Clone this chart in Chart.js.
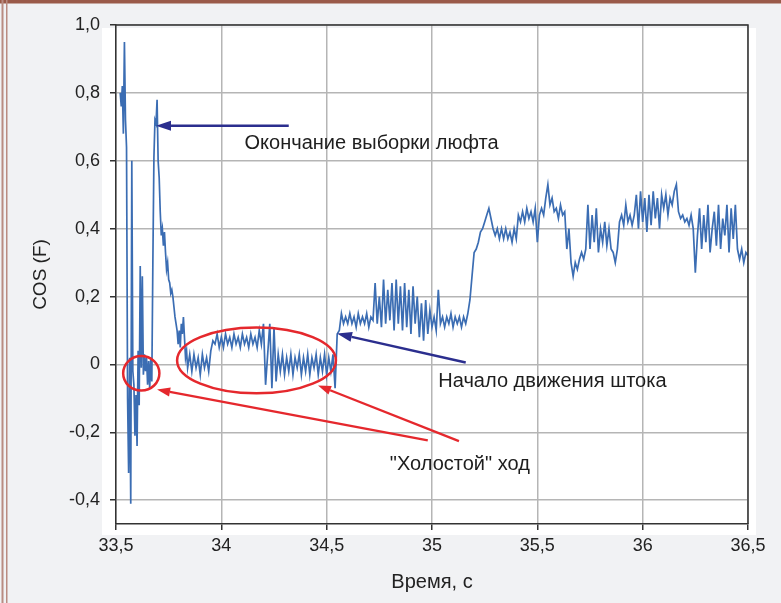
<!DOCTYPE html>
<html>
<head>
<meta charset="utf-8">
<script src="https://cdn.jsdelivr.net/npm/chart.js@4/dist/chart.umd.min.js"></script>
<style>
  html, body { margin: 0; padding: 0; background: #f1f2f4; }
  canvas { display: block; }
</style>
</head>
<body>
<canvas id="chart" width="781" height="603"></canvas>
<script>
// Sample times, s
const timeS = [
  33.52,33.525,33.53,33.535,33.54,33.545,33.55,33.555,33.56,33.565,
  33.57,33.575,33.58,33.585,33.59,33.595,33.6,33.605,33.61,33.615,
  33.62,33.625,33.63,33.635,33.64,33.645,33.65,33.655,33.66,33.665,
  33.67,33.675,33.68,33.685,33.69,33.695,33.7,33.705,33.71,33.715,
  33.72,33.725,33.73,33.735,33.74,33.745,33.75,33.755,33.76,33.765,
  33.77,33.775,33.78,33.785,33.79,33.795,33.8,33.805,33.81,33.815,
  33.82,33.825,33.83,33.835,33.84,
  33.85,33.86,33.87,33.88,33.89,33.9,33.91,33.92,33.93,33.94,
  33.95,33.96,33.97,33.98,33.99,34.0,34.01,34.02,34.03,34.04,
  34.05,34.06,34.07,34.08,34.09,34.1,34.11,34.12,34.13,34.14,
  34.15,34.16,34.17,34.18,34.19,34.2,34.21,34.22,34.23,34.24,
  34.25,34.26,34.27,34.28,34.29,34.3,34.31,34.32,34.33,34.34,
  34.35,34.36,34.37,34.38,34.39,34.4,34.41,34.42,34.43,34.44,
  34.45,34.46,34.47,34.48,34.49,34.5,34.51,34.52,34.53,34.54,
  34.55,34.56,34.57,34.58,34.59,34.6,34.61,34.62,34.63,34.64,
  34.65,34.66,34.67,34.68,34.69,34.7,34.71,34.72,34.73,34.74,
  34.75,34.76,34.77,34.78,34.79,34.8,34.81,34.82,34.83,34.84,
  34.85,34.86,34.87,34.88,34.89,34.9,34.91,34.92,34.93,34.94,
  34.95,34.96,34.97,34.98,34.99,35.0,35.01,35.02,35.03,35.04,
  35.05,35.06,35.07,35.08,35.09,35.1,35.11,35.12,35.13,35.14,
  35.15,35.16,35.17,35.18,35.19,35.2,35.21,35.22,35.23,35.24,
  35.25,35.26,35.27,35.28,35.29,35.3,35.31,35.32,35.33,35.34,
  35.35,35.36,35.37,35.38,35.39,35.4,35.41,35.42,35.43,35.44,
  35.45,35.46,35.47,35.48,35.49,35.5,35.51,35.52,35.53,35.54,
  35.55,35.56,35.57,35.58,35.59,35.6,35.61,35.62,35.63,35.64,
  35.65,35.66,35.67,35.68,35.69,35.7,35.71,35.72,35.73,35.74,
  35.75,35.76,35.77,35.78,35.79,35.8,35.81,35.82,35.83,35.84,
  35.85,35.86,35.87,35.88,35.89,35.9,35.91,35.92,35.93,35.94,
  35.95,35.96,35.97,35.98,35.99,36.0,36.01,36.02,36.03,36.04,
  36.05,36.06,36.07,36.08,36.09,36.1,36.11,36.12,36.13,36.14,
  36.15,36.16,36.17,36.18,36.19,36.2,36.21,36.22,36.23,36.24,
  36.25,36.26,36.27,36.28,36.29,36.3,36.31,36.32,36.33,36.34,
  36.35,36.36,36.37,36.38,36.39,36.4,36.41,36.42,36.43,36.44,
  36.45,36.46,36.47,36.48,36.49,36.5
];

// COS (F) at each sample
const cosF = [
  0.80,0.76,0.82,0.68,0.95,0.72,0.64,-0.10,-0.32,0.02,
  -0.41,0.60,-0.02,-0.06,-0.21,-0.09,-0.24,0.04,-0.12,0.29,
  -0.01,0.26,-0.03,0.03,-0.02,0.02,-0.06,0.01,-0.07,0.02,
  -0.05,0.30,0.61,0.72,0.71,0.78,0.60,0.55,0.45,0.38,
  0.40,0.35,0.39,0.33,0.28,0.30,0.25,0.24,0.21,0.22,
  0.20,0.17,0.14,0.12,0.10,0.06,0.10,0.05,0.12,0.09,
  0.14,0.08,0.02,0.04,-0.01,
  0.03,-0.02,0.03,-0.01,0.02,-0.03,0.03,-0.01,0.02,-0.02,
  0.04,0.07,0.06,0.09,0.05,0.08,0.05,0.09,0.06,0.08,
  0.05,0.09,0.06,0.08,0.05,0.09,0.06,0.08,0.05,0.09,
  0.06,0.08,0.05,0.10,0.06,0.12,-0.06,0.03,0.12,-0.07,
  0.11,-0.05,0.03,-0.02,0.03,-0.03,0.02,-0.02,0.03,-0.03,
  0.02,-0.01,0.03,-0.03,0.02,-0.02,0.03,-0.03,0.02,-0.01,
  0.03,-0.03,0.02,-0.02,0.03,-0.03,0.02,-0.02,0.03,-0.07,
  0.09,0.10,0.15,0.12,0.14,0.12,0.15,0.12,0.14,0.11,
  0.15,0.12,0.14,0.12,0.15,0.11,0.14,0.13,0.24,0.12,
  0.20,0.11,0.25,0.12,0.22,0.13,0.24,0.10,0.25,0.12,
  0.23,0.10,0.24,0.11,0.22,0.09,0.23,0.12,0.20,0.08,
  0.18,0.07,0.19,0.09,0.16,0.11,0.14,0.10,0.22,0.12,
  0.14,0.11,0.14,0.12,0.15,0.11,0.14,0.12,0.14,0.11,
  0.14,0.12,0.15,0.19,0.26,0.33,0.34,0.36,0.39,0.40,
  0.42,0.44,0.46,0.43,0.40,0.38,0.40,0.37,0.40,0.37,
  0.40,0.37,0.39,0.36,0.40,0.37,0.44,0.42,0.45,0.42,
  0.46,0.43,0.45,0.42,0.46,0.36,0.44,0.46,0.44,0.49,
  0.53,0.47,0.49,0.45,0.46,0.43,0.47,0.44,0.45,0.34,
  0.40,0.30,0.26,0.30,0.28,0.31,0.33,0.31,0.34,0.47,
  0.34,0.44,0.36,0.46,0.33,0.40,0.36,0.42,0.35,0.40,
  0.34,0.33,0.30,0.34,0.42,0.44,0.41,0.47,0.42,0.44,
  0.41,0.44,0.50,0.40,0.51,0.42,0.49,0.39,0.50,0.41,
  0.51,0.43,0.49,0.40,0.50,0.46,0.50,0.44,0.49,0.47,
  0.51,0.53,0.45,0.43,0.44,0.42,0.43,0.41,0.44,0.40,
  0.27,0.38,0.46,0.34,0.44,0.36,0.47,0.33,0.40,0.45,
  0.35,0.47,0.34,0.43,0.38,0.47,0.33,0.46,0.37,0.47,
  0.34,0.31,0.34,0.30,0.33,0.32
];

// Axis ticks
const xTickValues = [33.5, 34, 34.5, 35, 35.5, 36, 36.5];
const xTickLabels = ['33,5', '34', '34,5', '35', '35,5', '36', '36,5'];
const yTickValues = [-0.4, -0.2, 0, 0.2, 0.4, 0.6, 0.8, 1.0];
const yTickLabels = ['-0,4', '-0,2', '0', '0,2', '0,4', '0,6', '0,8', '1,0'];

// Callouts, placed in axis units
const callouts = {
  endOfPlay: { text: 'Окончание выборки люфта', tx: 34.11, ty: 0.65,
               arrowFrom: [34.32, 0.703], arrowTo: [33.69, 0.703] },
  rodStart:  { text: 'Начало движения штока', tx: 35.03, ty: -0.05,
               arrowFrom: [35.16, 0.006], arrowTo: [34.549, 0.091] },
  idle:      { text: '"Холостой" ход', tx: 34.8, ty: -0.294,
               rings: [ { cx: 33.62, cy: -0.026, rx: 0.086, ry: 0.051 },
                        { cx: 34.167, cy: 0.012, rx: 0.377, ry: 0.097 } ],
               pointers: [ { from: [34.98, -0.224], to: [33.695, -0.074] },
                           { from: [35.128, -0.226], to: [34.459, -0.062] } ] }
};

const TICK_FONT = '"Liberation Sans", Arial, sans-serif';
const TEXT_FONT = '"Liberation Sans", Arial, sans-serif';

function arrow(ctx, x1, y1, x2, y2, color, width, headLen, headHalf) {
  const ang = Math.atan2(y2 - y1, x2 - x1);
  const bx = x2 - Math.cos(ang) * headLen, by = y2 - Math.sin(ang) * headLen;
  ctx.strokeStyle = color;
  ctx.fillStyle = color;
  ctx.lineWidth = width;
  ctx.beginPath();
  ctx.moveTo(x1, y1);
  ctx.lineTo(bx, by);
  ctx.stroke();
  ctx.beginPath();
  ctx.moveTo(x2, y2);
  ctx.lineTo(bx + Math.sin(ang) * headHalf, by - Math.cos(ang) * headHalf);
  ctx.lineTo(bx - Math.sin(ang) * headHalf, by + Math.cos(ang) * headHalf);
  ctx.closePath();
  ctx.fill();
}

const pagePlugin = {
  id: 'page',
  beforeDraw(chart) {
    const { ctx, width, height, chartArea: a } = chart;
    ctx.save();
    ctx.fillStyle = '#f1f2f4';
    ctx.fillRect(0, 0, width, height);
    ctx.fillStyle = '#ffffff';
    ctx.fillRect(a.left - 14, a.top + 3, a.right - a.left + 22, a.bottom - a.top + 8);
    ctx.fillStyle = '#9a5a49';
    ctx.fillRect(0, 0, width, 3.5);
    ctx.fillStyle = '#b98c82';
    ctx.fillRect(1.5, 0, 2, height);
    ctx.fillRect(6, 0, 1.5, height);
    ctx.restore();
  },
  afterDraw(chart) {
    const { ctx, chartArea: a, scales: { x, y } } = chart;
    const px = v => x.getPixelForValue(v);
    const py = v => y.getPixelForValue(v);
    ctx.save();
    // top and right edges of the plot frame
    ctx.strokeStyle = '#333';
    ctx.lineWidth = 1.5;
    ctx.beginPath();
    ctx.moveTo(a.left, a.top);
    ctx.lineTo(a.right, a.top);
    ctx.lineTo(a.right, a.bottom);
    ctx.stroke();

    const blue = '#2b2e8e', red = '#e5282d';
    ctx.font = '20px ' + TEXT_FONT;
    ctx.textBaseline = 'middle';
    ctx.textAlign = 'left';

    const e = callouts.endOfPlay;
    arrow(ctx, px(e.arrowFrom[0]), py(e.arrowFrom[1]), px(e.arrowTo[0]), py(e.arrowTo[1]), blue, 2.5, 15, 5);
    const r = callouts.rodStart;
    arrow(ctx, px(r.arrowFrom[0]), py(r.arrowFrom[1]), px(r.arrowTo[0]), py(r.arrowTo[1]), blue, 2.5, 15, 5);

    const idle = callouts.idle;
    ctx.strokeStyle = red;
    ctx.lineWidth = 2.5;
    idle.rings.forEach(c => {
      ctx.beginPath();
      ctx.ellipse(px(c.cx), py(c.cy), px(c.cx + c.rx) - px(c.cx), py(c.cy) - py(c.cy + c.ry), 0, 0, Math.PI * 2);
      ctx.stroke();
    });
    idle.pointers.forEach(p => {
      arrow(ctx, px(p.from[0]), py(p.from[1]), px(p.to[0]), py(p.to[1]), red, 2.3, 13, 4.5);
    });

    ctx.fillStyle = '#1e1e1e';
    ctx.fillText(e.text, px(e.tx), py(e.ty));
    ctx.fillText(r.text, px(r.tx), py(r.ty));
    ctx.fillText(idle.text, px(idle.tx), py(idle.ty));
    ctx.restore();
  }
};

new Chart(document.getElementById('chart'), {
  type: 'line',
  data: {
    datasets: [{
      data: timeS.map((t, i) => ({ x: t, y: cosF[i] })),
      borderColor: '#3b6db3',
      borderWidth: 1.7,
      pointRadius: 0,
      tension: 0,
      fill: false
    }]
  },
  options: {
    responsive: false,
    animation: false,
    devicePixelRatio: 1,
    layout: { padding: { left: 29, right: 33, top: 25, bottom: 9 } },
    plugins: { legend: { display: false }, tooltip: { enabled: false } },
    scales: {
      x: {
        type: 'linear',
        min: 33.5,
        max: 36.5,
        afterFit(s) { s.height = 70; },
        afterBuildTicks(s) { s.ticks = xTickValues.map(v => ({ value: v })); },
        ticks: {
          autoSkip: false, maxRotation: 0, padding: 5, color: '#222',
          font: { family: TICK_FONT, size: 18 },
          callback: (v, i) => xTickLabels[i]
        },
        grid: { color: '#b5b5b5', lineWidth: 1.5, tickLength: 6, tickColor: '#333', tickWidth: 1.5 },
        border: { color: '#333', width: 1.5 },
        title: { display: true, text: 'Время, с', color: '#222', padding: 0,
                 font: { family: TEXT_FONT, size: 20 } }
      },
      y: {
        min: -0.47,
        max: 1.0,
        afterFit(s) { s.width = 87; },
        afterBuildTicks(s) { s.ticks = yTickValues.map(v => ({ value: v })); },
        ticks: {
          padding: 10, color: '#222',
          font: { family: TICK_FONT, size: 18 },
          callback: (v, i) => yTickLabels[i]
        },
        grid: { color: '#b5b5b5', lineWidth: 1.5, tickLength: 6, tickColor: '#333', tickWidth: 1.5 },
        border: { color: '#333', width: 1.5 },
        title: { display: true, text: 'COS (F)', color: '#222', padding: 0,
                 font: { family: TEXT_FONT, size: 19 } }
      }
    }
  },
  plugins: [pagePlugin]
});
</script>
</body>
</html>
